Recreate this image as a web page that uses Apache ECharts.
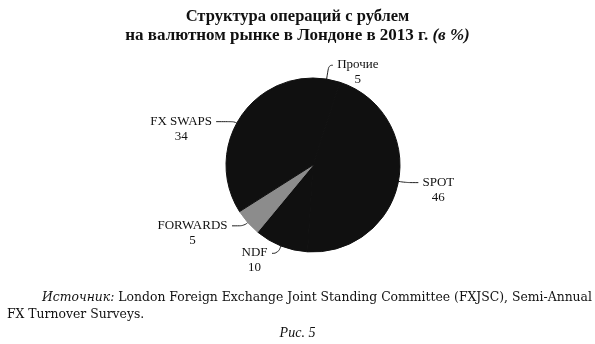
<!DOCTYPE html>
<html>
<head>
<meta charset="utf-8">
<script src="https://cdn.jsdelivr.net/npm/echarts@6/dist/echarts.min.js"></script>
<style>
  html, body { margin: 0; padding: 0; background: #fff; }
  #chart { width: 595px; height: 344px; }
</style>
</head>
<body>
<div id="chart"></div>
<script>
// Ruble FX turnover in London, 2013, by instrument (%)
const categories = ['Прочие', 'SPOT', 'NDF', 'FORWARDS', 'FX SWAPS'];
const shares = [5, 46, 10, 5, 34];

const titleLine1 = 'Структура операций с рублем';
const titleLine2 = 'на валютном рынке в Лондоне в 2013 г.';
const titleUnit = '(в %)';
const sourceLabel = 'Источник:';
const sourceText1 = ' London Foreign Exchange Joint Standing Committee (FXJSC), Semi-Annual';
const sourceText2 = 'FX Turnover Surveys.';
const figureLabel = 'Рис. 5';

const SERIF = '"Liberation Serif", "Times New Roman", serif';
const WIDE_SERIF = '"DejaVu Serif", "Liberation Serif", serif';
const LABEL_SIZE = 13;

// leader-line shape per slice: [radial part, horizontal part]
const leaderShape = {
  'Прочие': [14, 4],
  'SPOT': [7, 13],
  'NDF': [8, 6],
  'FORWARDS': [5, 12],
  'FX SWAPS': [3, 18]
};

// width of each two-line label so both lines can be centred on each other
const measureCtx = document.createElement('canvas').getContext('2d');
measureCtx.font = LABEL_SIZE + 'px ' + SERIF;
function labelWidth(name, value) {
  return Math.ceil(Math.max(measureCtx.measureText(name).width,
                            measureCtx.measureText(String(value)).width));
}

const pieData = categories.map((name, i) => {
  const fill = name === 'FORWARDS' ? '#8c8c8c' : '#101010';
  return {
    name: name,
    value: shares[i],
    itemStyle: { color: fill, borderColor: fill, borderWidth: 1 },
    labelLine: { length: leaderShape[name][0], length2: leaderShape[name][1] },
    label: {
      rich: {
        t: {
          width: labelWidth(name, shares[i]),
          align: 'center',
          fontFamily: SERIF,
          fontSize: LABEL_SIZE,
          lineHeight: 15,
          color: '#111'
        }
      }
    }
  };
});

const chart = echarts.init(document.getElementById('chart'), null, { renderer: 'canvas' });

chart.setOption({
  backgroundColor: '#fff',
  animation: false,
  title: [
    {
      text: titleLine1,
      left: 'center',
      top: 3,
      textStyle: { fontFamily: SERIF, fontSize: 16.5, fontWeight: 'bold', color: '#111' }
    },
    {
      text: '{m|' + titleLine2 + ' }{u|' + titleUnit + '}',
      left: 'center',
      top: 22,
      textStyle: {
        rich: {
          m: { fontFamily: SERIF, fontSize: 17, fontWeight: 'bold', color: '#111' },
          u: { fontFamily: SERIF, fontSize: 17, fontWeight: 'bold', fontStyle: 'italic', color: '#111' }
        }
      }
    }
  ],
  series: [
    {
      type: 'pie',
      center: [313, 165],
      radius: 87,
      startAngle: 90,
      clockwise: true,
      avoidLabelOverlap: false,
      data: pieData,
      label: {
        show: true,
        position: 'outside',
        formatter: p => '{t|' + p.name + '}\n{t|' + p.value + '}',
        distanceToLabelLine: 4
      },
      // first text line sits level with the end of its leader line
      labelLayout: { dy: 7 },
      labelLine: {
        show: true,
        smooth: 0.5,
        lineStyle: { color: '#222', width: 1 }
      },
      emphasis: { disabled: true }
    }
  ],
  graphic: [
    {
      type: 'text',
      left: 42,
      top: 292,
      style: {
        text: '{i|' + sourceLabel + '}{r|' + sourceText1 + '}',
        rich: {
          i: { fontFamily: WIDE_SERIF, fontSize: 12.4, fontStyle: 'italic', fill: '#111' },
          r: { fontFamily: WIDE_SERIF, fontSize: 12.4, fill: '#111' }
        }
      }
    },
    {
      type: 'text',
      left: 7,
      top: 309,
      style: { text: sourceText2, font: '12.4px ' + WIDE_SERIF, fill: '#111' }
    },
    {
      type: 'text',
      left: 'center',
      top: 326,
      style: { text: figureLabel, font: 'italic 14px ' + SERIF, fill: '#111' }
    }
  ]
});
</script>
</body>
</html>
